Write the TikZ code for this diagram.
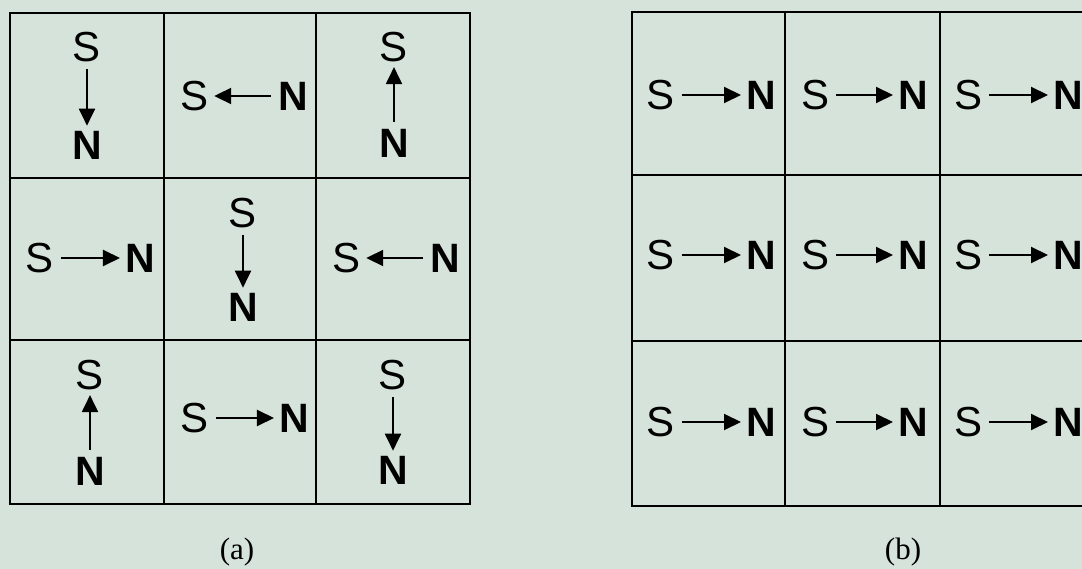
\documentclass[tikz,border=0pt]{standalone}
\usepackage{fontspec}
\setmainfont{Liberation Sans}
\newfontfamily\capfont{Liberation Serif}
\usetikzlibrary{arrows.meta}
\definecolor{paper}{RGB}{214,227,218}
\tikzset{
  spole/.style={font=\fontsize{42}{42}\selectfont, inner sep=0pt, text=black},
  npole/.style={font=\fontsize{41}{41}\selectfont\bfseries, inner sep=0pt, text=black},
  mag/.style={line width=2pt, -{Triangle[length=17pt,width=16pt]}, shorten <=7pt, shorten >=5pt},
  gridline/.style={line width=2pt, black},
  caption/.style={font=\capfont\fontsize{31}{31}\selectfont, inner sep=0pt}
}
\begin{document}
\begin{tikzpicture}[x=1pt,y=-1pt]
\fill[paper] (0,0) rectangle (1082,569);
\useasboundingbox (0,0) rectangle (1082,569);
\clip (0,0) rectangle (1082,569);
% ---------- grid (a) ----------
\draw[gridline] (10,13) rectangle (470,504);
\draw[gridline] (164,13) -- (164,504);
\draw[gridline] (316,13) -- (316,504);
\draw[gridline] (10,178) -- (470,178);
\draw[gridline] (10,340) -- (470,340);
% row 1
\node[spole] (a11s) at (87,47) {S};
\node[npole] (a11n) at (87,145) {N};
\draw[mag] (a11s) -- (a11n);
\node[spole] (a12s) at (195,96) {S};
\node[npole] (a12n) at (293,96) {N};
\draw[mag] (a12n) -- (a12s);
\node[spole] (a13s) at (394,47) {S};
\node[npole] (a13n) at (394,143) {N};
\draw[mag] (a13n) -- (a13s);
% row 2
\node[spole] (a21s) at (40,258) {S};
\node[npole] (a21n) at (140,258) {N};
\draw[mag] (a21s) -- (a21n);
\node[spole] (a22s) at (243,213) {S};
\node[npole] (a22n) at (243,307) {N};
\draw[mag] (a22s) -- (a22n);
\node[spole] (a23s) at (347,258) {S};
\node[npole] (a23n) at (445,258) {N};
\draw[mag] (a23n) -- (a23s);
% row 3
\node[spole] (a31s) at (90,375) {S};
\node[npole] (a31n) at (90,471) {N};
\draw[mag] (a31n) -- (a31s);
\node[spole] (a32s) at (195,418) {S};
\node[npole] (a32n) at (294,418) {N};
\draw[mag] (a32s) -- (a32n);
\node[spole] (a33s) at (393,375) {S};
\node[npole] (a33n) at (393,470) {N};
\draw[mag] (a33s) -- (a33n);
% ---------- grid (b) ----------
\draw[gridline] (632,12) rectangle (1094,506);
\draw[gridline] (785,12) -- (785,506);
\draw[gridline] (940,12) -- (940,506);
\draw[gridline] (632,175) -- (1094,175);
\draw[gridline] (632,341) -- (1094,341);
\foreach \r/\y in {1/95,2/255,3/422}{
  \foreach \c/\xs/\xn in {1/661/761,2/815/913,3/968/1068}{
    \node[spole] (b\r\c s) at (\xs,\y) {S};
    \node[npole] (b\r\c n) at (\xn,\y) {N};
    \draw[mag] (b\r\c s) -- (b\r\c n);
  }
}
% ---------- captions ----------
\node[caption] (capa) at (237,552) {(a)};
\node[caption] (capb) at (903,552) {(b)};
\end{tikzpicture}
\end{document}
